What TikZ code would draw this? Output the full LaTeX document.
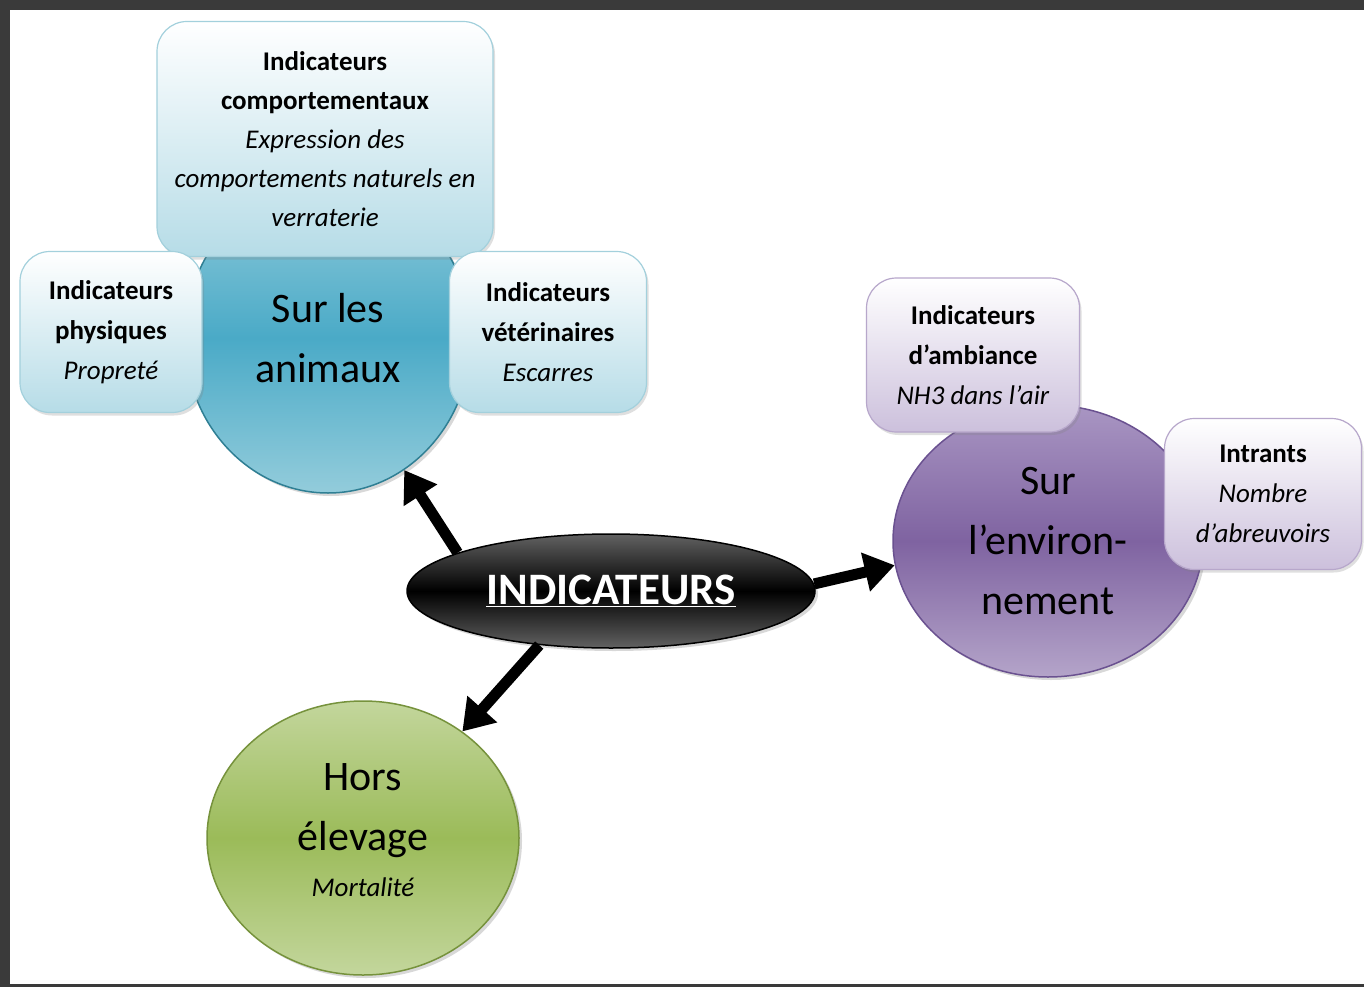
\documentclass[tikz,border=0pt]{standalone}
\usepackage{fontspec}
\setmainfont{Carlito}
\usetikzlibrary{positioning,
        shapes.geometric,
        shadows,
        arrows.meta}
\definecolor{frame}{HTML}{3A3A3A}
\definecolor{bluetop}{HTML}{93CCDB}
\definecolor{bluemid}{HTML}{4AAAC7}
\definecolor{blueline}{HTML}{2F7F94}
\definecolor{blueboxbot}{HTML}{B6DCE7}
\definecolor{blueboxline}{HTML}{A3D0DC}
\definecolor{purtop}{HTML}{A996C3}
\definecolor{purmid}{HTML}{7F63A1}
\definecolor{purbot}{HTML}{B4A4C9}
\definecolor{purline}{HTML}{6A5190}
\definecolor{purboxbot}{HTML}{CCC0DC}
\definecolor{purboxline}{HTML}{B7A7CB}
\definecolor{grntop}{HTML}{C3D69C}
\definecolor{grnmid}{HTML}{9BBB59}
\definecolor{grnline}{HTML}{76923C}
\definecolor{indgray}{HTML}{626262}
\newcommand\bigtxt{\fontsize{42}{60}\selectfont}
\newcommand\boxtxt{\fontsize{27}{40}\selectfont}
\newcommand\indtxt{\fontsize{45}{54}\selectfont\bfseries}

\begin{document}
\begin{tikzpicture}[x=1pt,y=-1pt,
        topic/.style={ellipse,inner sep=0pt,align=center,font=\bigtxt,line width=1.5pt,
            drop shadow={shadow xshift=3pt,shadow yshift=-3pt,opacity=0.3}},
        bluebox/.style={rectangle,rounded corners=30pt,inner sep=0pt,align=center,font=\boxtxt,
            draw=blueboxline,line width=1.2pt,top color=white,bottom color=blueboxbot,
            drop shadow={shadow xshift=2pt,shadow yshift=-3pt,opacity=0.25}},
        purbox/.style={bluebox,draw=purboxline,top color=white,bottom color=purboxbot},
        arr/.style={line width=11pt,-{Triangle[length=30pt,width=38pt]}}]
            \fill [frame] (0,0) rectangle (1364,987);
            \fill [white] (10,10) rectangle (1364,984);
            \useasboundingbox (0,0) rectangle (1364,987);

            \node [topic,minimum width=286pt,minimum height=310pt,draw=blueline,
                top color=bluetop,bottom color=bluetop,middle color=bluemid] (anim) at (328,338) {Sur les\\animaux};
            \node [topic,minimum width=310pt,minimum height=272pt,draw=purline,
                top color=purtop,bottom color=purbot,middle color=purmid] (env) at (1048,541) {Sur\\l’environ-\\nement};
            \node [topic,minimum width=312pt,minimum height=274pt,draw=grnline,
                top color=grntop,bottom color=grntop,middle color=grnmid] (hors) at (363,838)
                {Hors\\élevage\\[-14pt]{\boxtxt\itshape Mortalité}\\[-62pt]\strut};
            \node [topic,minimum width=408pt,minimum height=114pt,draw=black,font=\indtxt,text=white,
                top color=indgray,bottom color=indgray,middle color=black] (ind) at (611,591) {\underline{INDICATEURS}};

            \node [bluebox,minimum width=336pt,minimum height=235pt,font=\fontsize{27}{39}\selectfont] (comp) at (325,139)
                {\textbf{Indicateurs}\\\textbf{comportementaux}\\\textit{Expression des}\\\textit{comportements naturels en}\\\textit{verraterie}};
            \node [bluebox,minimum width=182pt,minimum height=161pt] (phys) at (111,332)
                {\textbf{Indicateurs}\\\textbf{physiques}\\\textit{Propreté}};
            \node [bluebox,minimum width=197pt,minimum height=161pt] (vet) at (548,332)
                {\textbf{Indicateurs}\\\textbf{vétérinaires}\\\textit{Escarres}};
            \node [purbox,minimum width=213pt,minimum height=154pt] (amb) at (973,355)
                {\textbf{Indicateurs}\\\textbf{d’ambiance}\\\textit{NH3 dans l’air}};
            \node [purbox,minimum width=197pt,minimum height=151pt] (intr) at (1263,494)
                {\textbf{Intrants}\\\textit{Nombre}\\\textit{d’abreuvoirs}};

            \draw [arr] (ind.166) -- (anim.-60);
            \draw [arr] (ind.2) -- (env.189);
            \draw [arr] (ind.217) -- (hors.47);
        \end{tikzpicture}
\end{document}
